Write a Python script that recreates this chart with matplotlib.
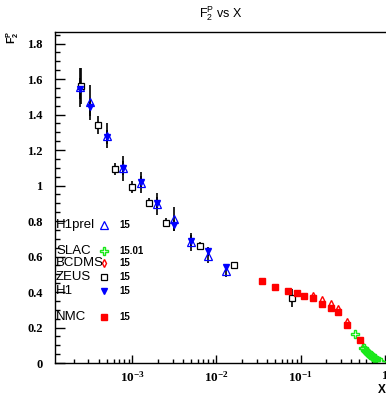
import matplotlib
matplotlib.use("Agg")
import matplotlib.pyplot as plt
from matplotlib.ticker import FixedLocator, FuncFormatter, MultipleLocator

# data
zeus_x = [2.45e-4, 3.95e-4, 6.2e-4, 9.8e-4, 1.58e-3, 2.5e-3, 6.3e-3, 1.62e-2, 8.0e-2]
zeus_y = [1.56, 1.34, 1.093, 0.992, 0.903, 0.79, 0.659, 0.55, 0.365]
zeus_e = [0.10, 0.05, 0.035, 0.035, 0.025, 0.025, 0.02, 0.015, 0.05]

h1prel_x = [2.39e-4, 3.14e-4, 4.97e-4, 7.8e-4, 1.27e-3, 1.98e-3, 3.16e-3, 5.0e-3, 7.9e-3, 1.3e-2]
h1prel_y = [1.553, 1.469, 1.281, 1.097, 1.016, 0.896, 0.811, 0.683, 0.603, 0.518]
h1prel_e = [0.11, 0.10, 0.07, 0.07, 0.06, 0.06, 0.07, 0.05, 0.04, 0.035]

h1_x = [2.39e-4, 3.14e-4, 4.97e-4, 7.8e-4, 1.27e-3, 1.98e-3, 3.16e-3, 5.0e-3, 7.9e-3, 1.3e-2]
h1_y = [1.545, 1.44, 1.275, 1.10, 1.02, 0.90, 0.776, 0.69, 0.63, 0.54]
h1_e = [0.06, 0.05, 0.04, 0.04, 0.035, 0.035, 0.03, 0.03, 0.025, 0.02]

nmc_x = [3.5e-2, 4.97e-2, 7.05e-2, 9.1e-2, 0.111, 0.141, 0.18, 0.229, 0.279, 0.355, 0.51]
nmc_y = [0.46, 0.428, 0.404, 0.396, 0.379, 0.366, 0.334, 0.31, 0.289, 0.216, 0.13]
nmc_e = [0.012, 0.005, 0.005, 0.005, 0.005, 0.006, 0.006, 0.007, 0.007, 0.007, 0.006]

bcdms_x = [0.141, 0.18, 0.229, 0.279, 0.355, 0.55]
bcdms_y = [0.375, 0.355, 0.33, 0.302, 0.231, 0.09]

slac_x = [0.44, 0.56, 0.57, 0.58, 0.60, 0.62, 0.63, 0.64, 0.66, 0.68, 0.69, 0.70,
          0.72, 0.74, 0.76, 0.78, 0.80, 0.82, 0.84, 0.86, 0.88, 0.90]
slac_y = [0.162, 0.082, 0.086, 0.075, 0.068, 0.062, 0.058, 0.055, 0.05, 0.044, 0.047, 0.039,
          0.034, 0.03, 0.026, 0.022, 0.018, 0.015, 0.012, 0.01, 0.008, 0.006]

leg_names = ["H1prel", "SLAC", "BCDMS", "ZEUS", "H1", "NMC"]
leg_nums = ["15", "15.01", "15", "15", "15", "15"]
leg_rows = [0.4175, 0.340, 0.3017, 0.2593, 0.2188, 0.1383]

x_ticks = [1e-3, 1e-2, 1e-1, 1.0]
x_tick_labels = [r"$\mathrm{10^{-3}}$", r"$\mathrm{10^{-2}}$", r"$\mathrm{10^{-1}}$", r"$\mathrm{1}$"]

plt.rcParams["mathtext.fontset"] = "custom"
plt.rcParams["mathtext.rm"] = "Liberation Serif:bold"
plt.rcParams["mathtext.bf"] = "Liberation Sans:bold"
plt.rcParams["mathtext.sf"] = "Liberation Sans"
plt.rcParams["font.family"] = ["Liberation Sans", "DejaVu Sans"]

fig = plt.figure(figsize=(3.86, 3.96), dpi=100)
ax = fig.add_axes([0.1425, 0.0833, 0.8575, 0.835])

red = "#ff0000"
blue = "#0000ff"
green = "#18e818"
ekw = dict(ecolor="black", elinewidth=1.2, capsize=0, linestyle="none")

ax.errorbar(zeus_x, zeus_y, yerr=zeus_e, marker="s", ms=4.6, mfc="white", mec="black", mew=0.9, **ekw)
ax.errorbar(h1prel_x, h1prel_y, yerr=h1prel_e, marker="none", **ekw)
ax.errorbar(h1_x, h1_y, yerr=h1_e, marker="v", ms=4.4, mfc=blue, mec=blue, **ekw)
ax.plot(h1prel_x, h1prel_y, linestyle="none", marker="^", ms=5.2, mfc="none", mec=blue, mew=0.9)
ax.errorbar(nmc_x, nmc_y, yerr=nmc_e, marker="s", ms=4.6, mfc=red, mec=red, **ekw)
ax.plot(bcdms_x, bcdms_y, linestyle="none", marker="d", ms=4.2, mfc="white", mec=red, mew=1.0)
ax.plot(slac_x, slac_y, linestyle="none", marker="P", ms=5.2, mfc="white", mec=green, mew=1.0)

ax.set_xscale("log")
ax.set_xlim(1.2e-4, 1.04)
ax.set_ylim(0, 1.863)

ax.spines["right"].set_visible(False)
for s in ax.spines.values():
    s.set_linewidth(1.0)

ax.yaxis.set_major_locator(MultipleLocator(0.2))
ax.yaxis.set_minor_locator(MultipleLocator(0.05))
ax.yaxis.set_major_formatter(FuncFormatter(lambda v, p: "0" if abs(v) < 1e-9 else ("%g" % round(v, 2))))
ax.xaxis.set_major_locator(FixedLocator(x_ticks))
ax.xaxis.set_major_formatter(FuncFormatter(lambda v, p: x_tick_labels[p] if p < len(x_tick_labels) else ""))

ax.tick_params(axis="both", which="both", direction="in", top=False, right=False)
ax.tick_params(axis="y", which="major", length=7, width=1, pad=9)
ax.tick_params(axis="y", which="minor", length=3.5, width=1)
ax.tick_params(axis="x", which="major", length=6, width=1, pad=5)
ax.tick_params(axis="x", which="minor", length=3, width=1)
for lab in ax.get_yticklabels():
    lab.set_fontfamily("Liberation Serif")
    lab.set_fontweight("bold")
    lab.set_fontsize(9)
for lab in ax.get_xticklabels():
    lab.set_fontsize(9.5)

ax.set_title(r"$\mathsf{F_2^P}$ vs X", fontsize=9, pad=11)
fig.text(0.033, 0.905, r"$\mathbf{F_2^P}$", rotation=90, fontsize=7.5, ha="center", va="center")
fig.text(0.99, 0.0, "X", fontsize=8.5, fontweight="bold", ha="center", va="bottom")

# ROOT style legend: name, marker, number
leg_style = [
    dict(marker="^", ms=5.2, mfc="none", mec=blue, mew=0.9),
    dict(marker="P", ms=5.2, mfc="white", mec=green, mew=1.0),
    dict(marker="d", ms=4.2, mfc="white", mec=red, mew=1.0),
    dict(marker="s", ms=4.6, mfc="white", mec="black", mew=0.9),
    dict(marker="v", ms=4.4, mfc=blue, mec=blue),
    dict(marker="s", ms=4.6, mfc=red, mec=red),
]
for name, num, yy, st in zip(leg_names, leg_nums, leg_rows, leg_style):
    ax.text(0.003, yy, name, transform=ax.transAxes, fontsize=9.5, ha="left", va="center")
    ax.plot([0.1495], [yy], transform=ax.transAxes, linestyle="none", clip_on=False, **st)
    ax.text(0.193, yy, num, transform=ax.transAxes, fontsize=7, fontweight="bold", ha="left", va="center")

fig.savefig("out.png", dpi=100)
